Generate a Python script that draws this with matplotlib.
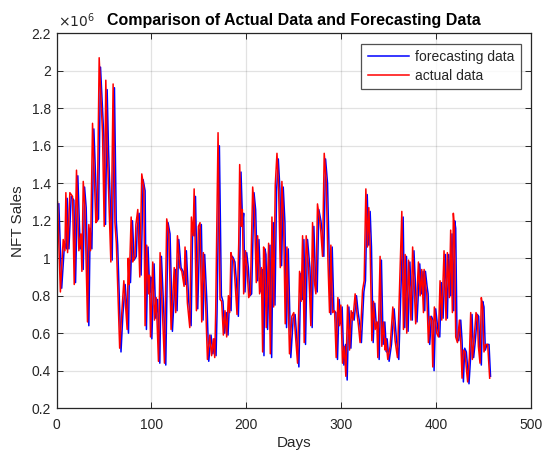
import matplotlib
matplotlib.use('Agg')
import matplotlib.pyplot as plt
from matplotlib.ticker import FuncFormatter

plt.rcParams['font.family'] = ['Liberation Sans', 'DejaVu Sans']

# actual NFT sales (in millions) at the turning points
actual_days = [
    1.0, 4.0, 7.0, 8.8, 9.8, 11.6, 14.0, 16.8, 18.6, 21.0,
    23.5, 25.6, 26.7, 28.1, 29.8, 32.6, 34.0, 35.8, 37.9, 41.4,
    42.8, 44.9, 48.4, 50.2, 51.9, 53.3, 57.2, 59.6, 61.5, 63.0,
    66.5, 68.5, 70.9, 74.4, 75.5, 76.5, 78.6, 80.3, 82.6, 83.6,
    85.6, 87.7, 89.8, 91.9, 93.3, 95.0, 96.8, 97.9, 99.0, 101.4,
    103.2, 105.0, 107.4, 109.1, 111.9, 113.7, 116.1, 118.2, 120.7, 124.0,
    125.6, 127.4, 129.8, 132.0, 134.4, 135.4, 137.9, 140.4, 142.1, 143.9,
    145.0, 147.4, 149.5, 151.2, 153.0, 154.7, 157.2, 159.0, 161.4, 163.4,
    165.3, 166.7, 167.7, 170.2, 172.3, 174.0, 175.8, 177.5, 179.3, 181.1,
    182.5, 183.8, 185.0, 186.6, 188.4, 190.2, 192.0, 193.0, 194.7, 195.8,
    197.2, 199.0, 200.7, 202.5, 204.2, 206.7, 208.4, 210.5, 211.9, 214.0,
    215.8, 217.2, 218.2, 219.3, 221.0, 223.5, 225.3, 227.0, 228.8, 230.5,
    232.3, 234.0, 235.8, 237.5, 239.3, 241.0, 242.8, 245.5, 248.0, 250.0,
    254.0, 256.1, 257.8, 259.3, 261.0, 263.1, 265.6, 268.0, 269.8, 271.6,
    273.3, 275.0, 277.2, 278.6, 280.3, 282.1, 284.2, 286.0, 287.7, 289.1,
    290.9, 293.0, 294.7, 296.5, 298.2, 299.6, 301.4, 303.2, 304.9, 306.7,
    308.8, 310.5, 312.3, 314.7, 316.5, 318.2, 319.9, 322.5, 324.2, 326.0,
    327.7, 329.1, 330.5, 332.3, 334.0, 335.8, 337.5, 338.6, 341.0, 342.8,
    344.6, 346.3, 347.0, 349.1, 351.6, 354.4, 356.8, 359.3, 361.1, 363.9,
    365.6, 367.4, 369.1, 371.0, 373.5, 375.3, 378.5, 381.4, 383.2, 384.9,
    386.7, 387.4, 389.1, 390.2, 391.9, 393.7, 395.4, 396.5, 398.2, 400.7,
    402.5, 404.2, 406.0, 408.4, 410.5, 411.9, 414.0, 415.4, 417.2, 418.2,
    419.3, 420.7, 422.5, 424.6, 426.0, 427.4, 428.8, 430.5, 432.3, 433.3,
    435.1, 436.5, 438.2, 440.0, 442.1, 443.5, 444.6, 446.3, 447.7, 449.1,
    450.5, 452.3, 454.4, 456.5,
]
actual_sales = [
    1.30, 0.82, 1.10, 1.04, 1.35, 1.03, 1.35, 1.33, 0.86, 1.47,
    1.04, 1.13, 0.93, 1.41, 1.28, 0.66, 1.18, 1.04, 1.72, 1.19,
    1.20, 2.07, 1.67, 1.17, 1.95, 1.60, 0.98, 1.93, 1.19, 1.08,
    0.52, 0.69, 0.88, 0.62, 1.00, 0.86, 1.22, 0.98, 1.01, 1.18,
    1.26, 0.90, 1.45, 1.38, 0.64, 1.07, 0.81, 0.91, 0.58, 0.98,
    0.67, 0.79, 0.45, 1.03, 0.67, 0.44, 1.21, 1.14, 0.62, 0.95,
    0.71, 1.12, 0.95, 0.93, 0.85, 1.06, 0.76, 0.63, 1.22, 1.12,
    1.37, 0.72, 1.17, 1.19, 0.66, 1.03, 0.74, 0.46, 0.59, 0.48,
    0.57, 0.47, 0.71, 1.67, 0.78, 0.77, 0.59, 0.72, 0.58, 0.80,
    0.71, 1.03, 1.00, 0.99, 0.85, 0.70, 1.08, 1.50, 1.17, 1.26,
    0.81, 1.04, 0.95, 0.79, 0.81, 1.38, 1.27, 0.87, 1.12, 0.81,
    0.95, 0.50, 1.06, 1.03, 0.63, 1.08, 0.49, 1.22, 0.74, 1.39,
    1.56, 1.38, 0.95, 1.41, 1.19, 0.65, 1.06, 0.49, 0.69, 0.71,
    0.44, 0.93, 0.77, 1.12, 0.55, 1.12, 0.95, 0.64, 1.19, 0.88,
    0.81, 1.29, 1.21, 1.14, 1.01, 1.56, 1.41, 0.99, 0.71, 1.07,
    0.71, 0.72, 0.47, 0.79, 0.64, 0.75, 0.44, 0.53, 0.37, 0.75,
    0.51, 0.72, 0.67, 0.81, 0.71, 0.64, 0.55, 0.83, 0.88, 1.37,
    1.06, 1.27, 1.06, 0.56, 0.77, 0.62, 0.66, 0.47, 1.01, 0.53,
    0.66, 0.51, 0.57, 0.46, 0.53, 0.74, 0.56, 0.47, 0.77, 1.25,
    0.62, 1.02, 0.60, 0.99, 0.67, 1.06, 0.65, 0.98, 0.80, 0.94,
    0.71, 0.94, 0.85, 0.81, 0.55, 0.69, 0.67, 0.42, 0.74, 0.60,
    0.58, 0.88, 0.67, 1.04, 0.67, 1.03, 0.79, 1.15, 0.71, 1.24,
    1.17, 0.58, 0.55, 0.67, 0.56, 0.36, 0.51, 0.50, 0.39, 0.34,
    0.47, 0.71, 0.46, 0.56, 0.71, 0.69, 0.53, 0.44, 0.79, 0.74,
    0.50, 0.54, 0.54, 0.36,
]

# forecast (in millions), trails the actual series by about a day
forecast_days = [
    2.4, 5.4, 8.4, 10.2, 11.2, 13.0, 15.4, 18.2, 20.0, 22.4,
    24.9, 27.0, 28.1, 29.5, 31.2, 34.0, 35.4, 37.2, 39.3, 42.8,
    44.2, 46.3, 49.8, 51.6, 53.3, 54.7, 58.6, 61.0, 62.9, 64.4,
    67.9, 69.9, 72.3, 75.8, 76.9, 77.9, 80.0, 81.7, 84.0, 85.0,
    87.0, 89.1, 91.2, 93.3, 94.7, 96.4, 98.2, 99.3, 100.4, 102.8,
    104.6, 106.4, 108.8, 110.5, 113.3, 115.1, 117.5, 119.6, 122.1, 125.4,
    127.0, 128.8, 131.2, 133.4, 135.8, 136.8, 139.3, 141.8, 143.5, 145.3,
    146.4, 148.8, 150.9, 152.6, 154.4, 156.1, 158.6, 160.4, 162.8, 164.8,
    166.7, 168.1, 169.1, 171.6, 173.7, 175.4, 177.2, 178.9, 180.7, 182.5,
    183.9, 185.2, 186.4, 188.0, 189.8, 191.6, 193.4, 194.4, 196.1, 197.2,
    198.6, 200.4, 202.1, 203.9, 205.6, 208.1, 209.8, 211.9, 213.3, 215.4,
    217.2, 218.6, 219.6, 220.7, 222.4, 224.9, 226.7, 228.4, 230.2, 231.9,
    233.7, 235.4, 237.2, 238.9, 240.7, 242.4, 244.2, 246.9, 249.4, 251.4,
    255.4, 257.5, 259.2, 260.7, 262.4, 264.5, 267.0, 269.4, 271.2, 273.0,
    274.7, 276.4, 278.6, 280.0, 281.7, 283.5, 285.6, 287.4, 289.1, 290.5,
    292.3, 294.4, 296.1, 297.9, 299.6, 301.0, 302.8, 304.6, 306.3, 308.1,
    310.2, 311.9, 313.7, 316.1, 317.9, 319.6, 321.3, 323.9, 325.6, 327.4,
    329.1, 330.5, 331.9, 333.7, 335.4, 337.2, 338.9, 340.0, 342.4, 344.2,
    346.0, 347.7, 348.4, 350.5, 353.0, 355.8, 358.2, 360.7, 362.5, 365.3,
    367.0, 368.8, 370.5, 372.4, 374.9, 376.7, 379.9, 382.8, 384.6, 386.3,
    388.1, 388.8, 390.5, 391.6, 393.3, 395.1, 396.8, 397.9, 399.6, 402.1,
    403.9, 405.6, 407.4, 409.8, 411.9, 413.3, 415.4, 416.8, 418.6, 419.6,
    420.7, 422.1, 423.9, 426.0, 427.4, 428.8, 430.2, 431.9, 433.7, 434.7,
    436.5, 437.9, 439.6, 441.4, 443.5, 444.9, 446.0, 447.7, 449.1, 450.5,
    451.9, 453.7, 455.8, 457.4,
]
forecast_sales = [
    1.29, 0.84, 1.08, 1.05, 1.32, 1.05, 1.33, 1.31, 0.87, 1.44,
    1.05, 1.12, 0.94, 1.38, 1.27, 0.64, 1.16, 1.05, 1.69, 1.20,
    1.21, 2.02, 1.65, 1.18, 1.90, 1.59, 0.99, 1.91, 1.20, 1.07,
    0.50, 0.70, 0.86, 0.60, 0.99, 0.87, 1.20, 0.99, 1.01, 1.16,
    1.24, 0.91, 1.42, 1.36, 0.62, 1.06, 0.82, 0.90, 0.57, 0.97,
    0.68, 0.78, 0.44, 1.01, 0.68, 0.43, 1.19, 1.13, 0.61, 0.94,
    0.72, 1.10, 0.95, 0.93, 0.86, 1.04, 0.77, 0.64, 1.19, 1.12,
    1.33, 0.73, 1.15, 1.18, 0.67, 1.02, 0.75, 0.45, 0.59, 0.49,
    0.57, 0.48, 0.70, 1.60, 0.80, 0.77, 0.60, 0.71, 0.59, 0.79,
    0.72, 1.01, 1.00, 0.98, 0.86, 0.69, 1.07, 1.46, 1.18, 1.24,
    0.82, 1.03, 0.95, 0.80, 0.81, 1.35, 1.26, 0.88, 1.10, 0.82,
    0.94, 0.48, 1.05, 1.02, 0.62, 1.07, 0.47, 1.19, 0.75, 1.36,
    1.53, 1.37, 0.96, 1.38, 1.19, 0.63, 1.05, 0.47, 0.68, 0.70,
    0.42, 0.92, 0.78, 1.10, 0.54, 1.10, 0.95, 0.63, 1.17, 0.88,
    0.82, 1.26, 1.20, 1.14, 1.01, 1.53, 1.40, 1.00, 0.70, 1.06,
    0.72, 0.71, 0.46, 0.78, 0.65, 0.74, 0.43, 0.54, 0.35, 0.74,
    0.52, 0.71, 0.67, 0.80, 0.71, 0.65, 0.55, 0.82, 0.88, 1.34,
    1.07, 1.25, 1.06, 0.55, 0.76, 0.63, 0.66, 0.46, 0.99, 0.54,
    0.66, 0.50, 0.57, 0.45, 0.54, 0.73, 0.57, 0.46, 0.76, 1.22,
    0.63, 1.01, 0.61, 0.98, 0.67, 1.04, 0.66, 0.97, 0.81, 0.93,
    0.72, 0.93, 0.85, 0.81, 0.54, 0.69, 0.67, 0.40, 0.73, 0.61,
    0.58, 0.87, 0.68, 1.02, 0.68, 1.02, 0.80, 1.13, 0.72, 1.20,
    1.16, 0.57, 0.56, 0.67, 0.56, 0.34, 0.52, 0.50, 0.39, 0.33,
    0.48, 0.70, 0.47, 0.56, 0.70, 0.69, 0.53, 0.43, 0.77, 0.74,
    0.51, 0.54, 0.54, 0.37,
]

grey = '#262626'

fig = plt.figure(figsize=(5.44, 4.51), dpi=100)
ax = fig.add_axes([0.104, 0.095, 0.872, 0.831])

ax.plot(forecast_days, forecast_sales, color=(0, 0, 1), linewidth=1.1, label='forecasting data')
ax.plot(actual_days, actual_sales, color=(1, 0, 0), linewidth=1.1, label='actual data')

ax.set_xlim(0, 500)
ax.set_ylim(0.2, 2.2)
ax.set_xticks([0, 100, 200, 300, 400, 500])
ax.set_yticks([0.2, 0.4, 0.6, 0.8, 1.0, 1.2, 1.4, 1.6, 1.8, 2.0, 2.2])
ax.yaxis.set_major_formatter(FuncFormatter(lambda v, p: '%g' % round(v, 1)))

ax.grid(True, color=grey, alpha=0.13, linewidth=0.9)
ax.tick_params(direction='in', length=4, width=0.7, colors=grey, labelsize=10,
               top=True, right=True)
ax.tick_params(axis='x', pad=7)
ax.tick_params(axis='y', pad=4)
for s in ax.spines.values():
    s.set_color(grey)
    s.set_linewidth(0.9)

ax.set_xlabel('Days', fontsize=11, color=grey, labelpad=3)
ax.set_ylabel('NFT Sales', fontsize=11, color=grey, labelpad=5)
ax.set_title('Comparison of Actual Data and Forecasting Data', fontsize=11.5,
             fontweight='bold', color='black', pad=6)
ax.text(0.003, 1.008, r'$\times10^{6}$', transform=ax.transAxes, fontsize=10,
        color=grey, ha='left', va='bottom')

leg = ax.legend(loc='upper right', fontsize=10, frameon=True, fancybox=False,
                borderaxespad=0.75, handlelength=3.0, handletextpad=0.4,
                borderpad=0.45, labelspacing=0.35)
leg.get_frame().set_edgecolor(grey)
leg.get_frame().set_linewidth(0.9)
for t in leg.get_texts():
    t.set_color(grey)

plt.savefig('out.png', dpi=100)
